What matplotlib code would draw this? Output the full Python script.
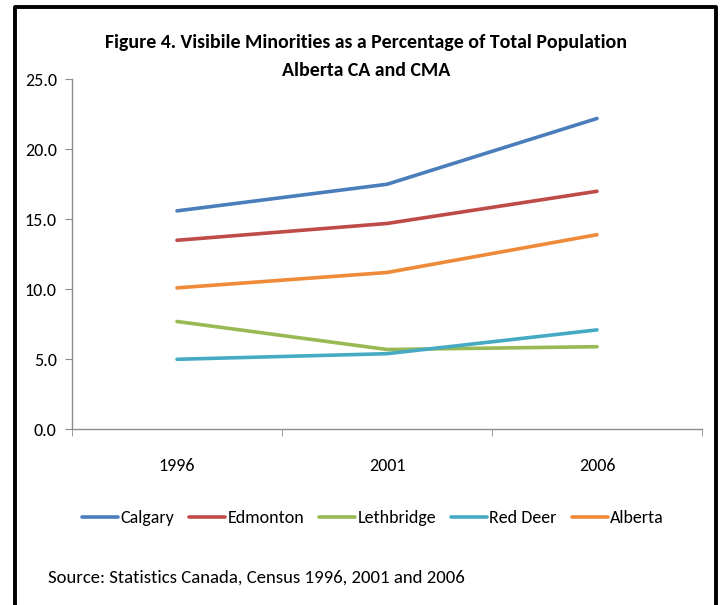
import matplotlib
matplotlib.use("Agg")
import matplotlib.pyplot as plt
from matplotlib.lines import Line2D

plt.rcParams['font.family'] = ['Carlito', 'Liberation Sans Narrow', 'DejaVu Sans']

# data
years = ["1996", "2001", "2006"]
series_names = ["Calgary", "Edmonton", "Lethbridge", "Red Deer", "Alberta"]
calgary = [15.6, 17.5, 22.2]
edmonton = [13.5, 14.7, 17.0]
lethbridge = [7.7, 5.7, 5.9]
red_deer = [5.0, 5.4, 7.1]
alberta = [10.1, 11.2, 13.9]
colors = ["#4A7EBB", "#BE4B48", "#98B954", "#46AAC5", "#EE8A38"]
y_ticks = [0, 5, 10, 15, 20, 25]

fig = plt.figure(figsize=(7.2, 6.05), dpi=100)
ax = fig.add_axes([0.1, 0.2904, 0.875, 0.5786])

x = list(range(len(years)))
for name, vals, col in zip(series_names, [calgary, edmonton, lethbridge, red_deer, alberta], colors):
    ax.plot(x, vals, color=col, lw=2.6, label=name, solid_capstyle='round')

ax.set_xlim(-0.5, len(years) - 0.5)
ax.set_ylim(0, 25)
ax.set_yticks(y_ticks)
ax.set_yticklabels(["%.1f" % v for v in y_ticks])
ax.set_xticks(x)
ax.set_xticklabels(years)
ax.set_xticks([i - 0.5 for i in range(len(years) + 1)], minor=True)

gray = "#8c8c8c"
for s in ["top", "right"]:
    ax.spines[s].set_visible(False)
for s in ["left", "bottom"]:
    ax.spines[s].set_color(gray)
    ax.spines[s].set_linewidth(1.0)

ax.tick_params(axis='y', direction='out', length=5, color=gray, labelsize=13, pad=6)
ax.tick_params(axis='x', which='major', length=0, labelsize=13, pad=21)
ax.tick_params(axis='x', which='minor', direction='out', length=5, color=gray)

fig.text(0.508, 0.930, "Figure 4. Visibile Minorities as a Percentage of Total Population",
         ha='center', va='center', fontsize=14.3, fontweight='bold')
fig.text(0.508, 0.884, "Alberta CA and CMA", ha='center', va='center',
         fontsize=14.3, fontweight='bold')

fig.legend(loc='center', bbox_to_anchor=(0.518, 0.144), ncol=5, frameon=False,
           fontsize=13, handlelength=2.0, handletextpad=0.1, columnspacing=0.85)

fig.text(0.066, 0.045, "Source: Statistics Canada, Census 1996, 2001 and 2006",
         ha='left', va='center', fontsize=13.5)

# outer frame (open at the bottom)
W, H = 720.0, 605.0
frame_x = [15 / W, 15 / W, 716 / W, 716 / W]
frame_y = [0, 1 - 6.5 / H, 1 - 6.5 / H, 0]
fig.add_artist(Line2D(frame_x, frame_y, color='black', lw=2.8, transform=fig.transFigure))

fig.savefig("out.png", dpi=100)
